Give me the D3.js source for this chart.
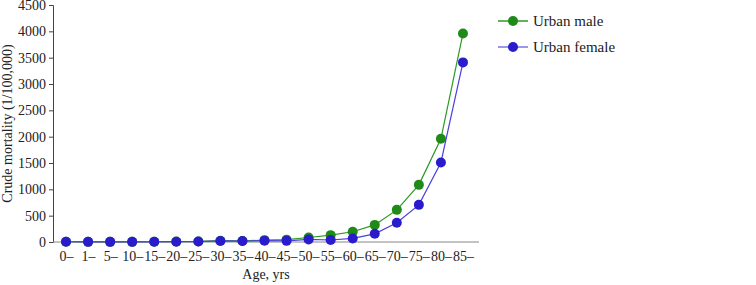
<!DOCTYPE html>
<html>
<head>
<meta charset="utf-8">
<script src="https://cdn.jsdelivr.net/npm/d3@7/dist/d3.min.js"></script>
<style>
  body { margin: 0; background: #fff; }
  text { font-family: "Liberation Serif", "DejaVu Serif", serif; fill: #222; }
</style>
</head>
<body>
<div id="chart"></div>
<script>
// data
var ageGroups = ["0", "1", "5", "10", "15", "20", "25", "30", "35", "40", "45",
  "50", "55", "60", "65", "70", "75", "80", "85"];
var urbanMale = [5, 3, 3, 3, 5, 8, 10, 25, 20, 35, 45, 85, 130, 195, 325, 610, 1085, 1960, 3960];
var urbanFemale = [5, 3, 3, 3, 4, 6, 8, 20, 18, 25, 22, 48, 38, 68, 155, 365, 705, 1510, 3410];
var yTicks = [0, 500, 1000, 1500, 2000, 2500, 3000, 3500, 4000, 4500];

var width = 756, height = 285;
var svg = d3.select("#chart").append("svg")
  .attr("width", width)
  .attr("height", height);

var x = d3.scalePoint().domain(ageGroups).range([55, 474]).padding(0.5);
var y = d3.scaleLinear().domain([0, 4500]).range([242, 5]);

// y axis
var yAxis = d3.axisLeft(y).tickValues(yTicks).tickSize(4).tickPadding(3)
  .tickFormat(d3.format("d"));
var gy = svg.append("g").attr("transform", "translate(53,0)").call(yAxis);
gy.select(".domain").attr("stroke", "#444");
gy.selectAll(".tick line").attr("stroke", "#444");
gy.selectAll("text").style("font-size", "14px").attr("fill", "#222");

// x axis
var xAxis = d3.axisBottom(x).tickSize(0).tickPadding(9)
  .tickFormat(function(d) { return d + "\u2013"; });
var gx = svg.append("g").attr("transform", "translate(0,242)").call(xAxis);
gx.select(".domain").remove();
gx.selectAll("text").style("font-size", "14px").attr("fill", "#222");
svg.append("line")
  .attr("x1", 53).attr("x2", 479)
  .attr("y1", 242).attr("y2", 242)
  .attr("stroke", "#888").attr("stroke-width", 1.2);

// labels
svg.append("text")
  .attr("transform", "translate(12," + y(2250) + ")rotate(-90)")
  .attr("text-anchor", "middle")
  .style("font-size", "14px")
  .text("Crude mortality (1/100,000)");
svg.append("text")
  .attr("x", 266).attr("y", 279)
  .attr("text-anchor", "middle")
  .style("font-size", "14px")
  .text("Age, yrs");

var series = [
  { name: "Urban male", values: urbanMale, line: "#2a9a22", dot: "#1f8a18" },
  { name: "Urban female", values: urbanFemale, line: "#4a40dd", dot: "#2a1ccc" }
];

var line = d3.line()
  .x(function(d, i) { return x(ageGroups[i]); })
  .y(function(d) { return y(d); });

series.forEach(function(s) {
  svg.append("path")
    .datum(s.values)
    .attr("d", line)
    .attr("fill", "none")
    .attr("stroke", s.line)
    .attr("stroke-width", 1.2);
  svg.selectAll(null)
    .data(s.values)
    .enter()
    .append("circle")
    .attr("cx", function(d, i) { return x(ageGroups[i]); })
    .attr("cy", function(d) { return y(d); })
    .attr("r", 5)
    .attr("fill", s.dot);
});

// legend
var legend = svg.append("g").attr("transform", "translate(498,21)");
series.forEach(function(s, i) {
  var g = legend.append("g").attr("transform", "translate(0," + (i * 26) + ")");
  g.append("line").attr("x1", 0).attr("x2", 30)
    .attr("stroke", i === 0 ? s.line : "#7a74e6").attr("stroke-width", 1.5);
  g.append("circle").attr("cx", 15).attr("r", 5).attr("fill", s.dot);
  g.append("text").attr("x", 35).attr("dy", "0.35em")
    .style("font-size", "15px").text(s.name);
});
</script>
</body>
</html>
